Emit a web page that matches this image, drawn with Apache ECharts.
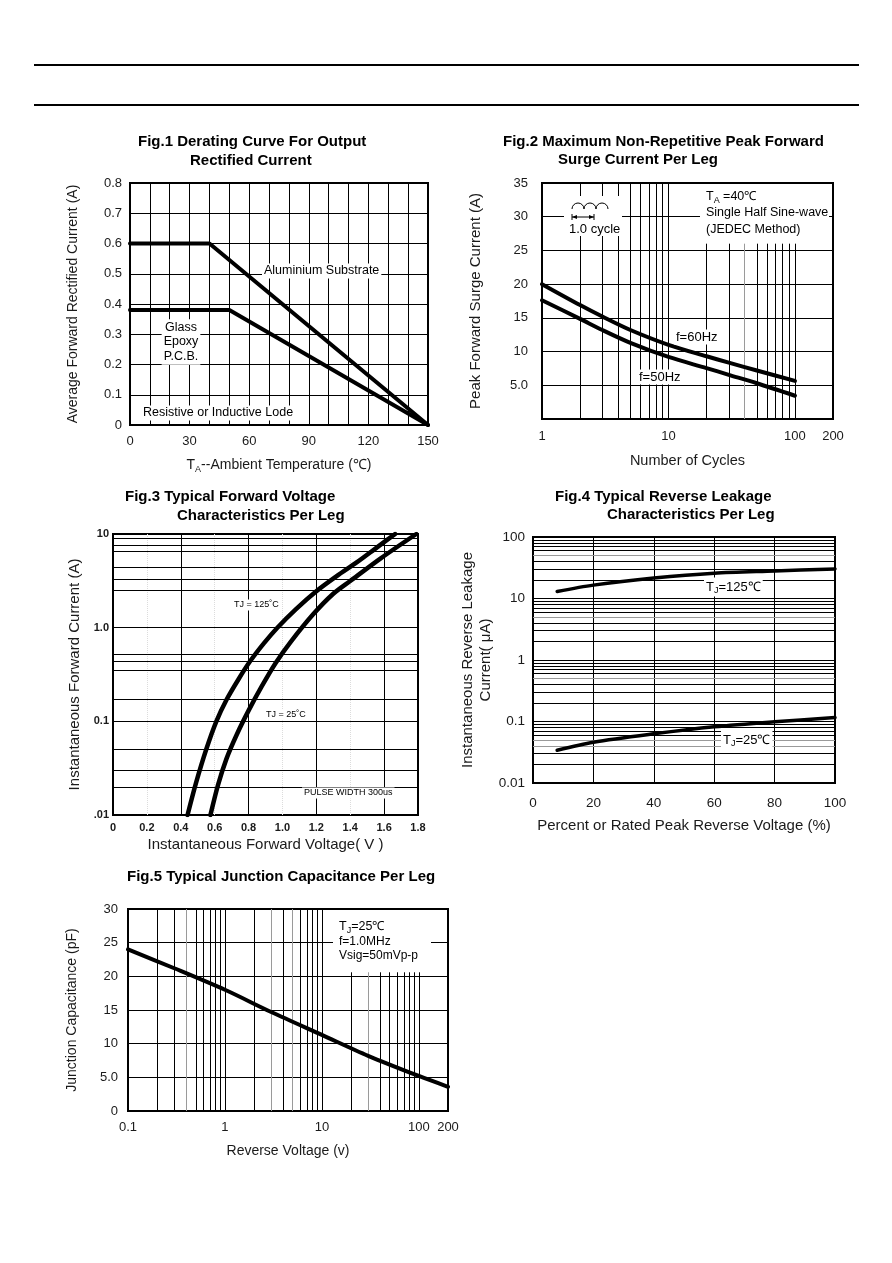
<!DOCTYPE html>
<html>
<head>
<meta charset="utf-8">
<title>Characteristic curves</title>
<script src="https://cdn.jsdelivr.net/npm/echarts@6/dist/echarts.min.js"></script>
<style>
html, body { margin: 0; padding: 0; background: #fff; }
#page { width: 892px; height: 1263px; }
</style>
</head>
<body>
<div id="page"></div>
<script>
const FONT = "'Liberation Sans', Arial, Helvetica, sans-serif"
const INK = '#1a1a1a'

// Fig.1 derating curve
const fig1AluTemp = [0, 40, 150]
const fig1AluCurrent = [0.6, 0.6, 0]
const fig1GlassTemp = [0, 50, 150]
const fig1GlassCurrent = [0.38, 0.38, 0]

// Fig.2 surge current
const fig2Cycles = [1, 2, 3, 5, 10, 20, 30, 50, 100]
const fig2Surge60Hz = [20, 16.9, 15.2, 13.2, 11.0, 9.3, 8.35, 7.2, 5.65]
const fig2Surge50Hz = [17.6, 14.85, 13.2, 11.3, 9.2, 7.55, 6.55, 5.3, 3.45]
const fig2XLabels = [1, 10, 100, 200]
const fig2FullLines = [2, 3, 4, 5, 6, 7, 8, 9, 10]
const fig2ShortLines = [20, 30, 50, 60, 70, 80, 90, 100]
const fig2ShortGray = [40]
const fig2ShortTop = 26

// Fig.3 forward voltage
const fig3Volt125 = [0.44, 0.49, 0.55, 0.61, 0.67, 0.74, 0.81, 0.89, 0.97, 1.08, 1.20, 1.32, 1.44, 1.56, 1.665]
const fig3Amp125 = [0.01, 0.022, 0.05, 0.1, 0.17, 0.28, 0.44, 0.68, 1.0, 1.58, 2.45, 3.55, 5.0, 7.25, 10]
const fig3Volt25 = [0.575, 0.62, 0.67, 0.73, 0.80, 0.88, 0.96, 1.05, 1.18, 1.30, 1.40, 1.58, 1.79]
const fig3Amp25 = [0.01, 0.021, 0.04, 0.072, 0.13, 0.24, 0.42, 0.71, 1.38, 2.3, 3.15, 5.5, 10]
const fig3MajorX = [0.4, 0.8, 1.2, 1.6]
const fig3FaintX = [0.2, 0.6, 1.0, 1.4]
const fig3MinorY = [0.0153, 0.0236, 0.0333, 0.054, 0.17, 0.35, 0.44, 0.52, 2.5, 3.3, 4.4, 6.6, 7.5, 8.9]

// Fig.4 reverse leakage
const fig4Percent = [8, 20, 40, 60, 80, 100]
const fig4Leak125 = [13, 16.5, 21.5, 25.8, 28, 30.3]
const fig4Leak25 = [0.034, 0.046, 0.063, 0.082, 0.099, 0.116]
const fig4BlackY = [0.02, 0.03, 0.06, 0.07, 0.08, 0.09, 0.2, 0.3, 0.4, 0.6, 0.7, 0.8, 0.9,
  2, 3, 4, 6, 7, 8, 9, 20, 30, 40, 60, 70, 80, 90]
const fig4GrayY = [0.04, 0.05, 0.5, 5, 50]

// Fig.5 junction capacitance
const fig5Volt = [0.1, 0.3, 1, 3, 10, 30, 100, 200]
const fig5Cap = [24, 21.2, 18, 14.7, 11.3, 8.2, 5.2, 3.6]
const fig5XLabels = [0.1, 1, 10, 100, 200]
const fig5FullBlack = [0.2, 0.3, 0.5, 0.6, 0.7, 0.8, 0.9, 1, 2, 4, 6, 7, 8, 9, 10]
const fig5FullGray = [0.4, 3, 5]
const fig5ShortBlack = [20, 40, 50, 60, 70, 80, 90, 100]
const fig5ShortGray = [30]
const fig5ShortTop = 20.6

const pairs = (xs, ys) => xs.map((x, i) => [x, ys[i]])
const num = v => String(parseFloat((+v).toPrecision(6)))

function vLines(values, color, top, extra) {
  return values.map(v => top == null
    ? { xAxis: v, lineStyle: Object.assign({ color }, extra) }
    : [{ coord: [v, 0], lineStyle: Object.assign({ color }, extra) }, { coord: [v, top] }])
}
function hLines(values, color) {
  return values.map(v => ({ yAxis: v, lineStyle: { color } }))
}

function gridLines(idx, data) {
  return {
    type: 'line', xAxisIndex: idx, yAxisIndex: idx, data: [], z: 1, silent: true,
    markLine: {
      silent: true, symbol: ['none', 'none'], label: { show: false }, animation: false,
      lineStyle: { type: 'solid', width: 1 }, data
    }
  }
}

function curve(idx, xs, ys, width, smooth) {
  return {
    type: 'line', xAxisIndex: idx, yAxisIndex: idx, data: pairs(xs, ys),
    showSymbol: false, symbol: 'none', smooth: smooth,
    z: 6, silent: true, emphasis: { disabled: true },
    lineStyle: { color: '#000', width: width, cap: 'round', join: 'round' }
  }
}

function axis(idx, extra) {
  return Object.assign({
    gridIndex: idx,
    axisLine: { show: false },
    axisTick: { show: false },
    splitLine: { show: true, lineStyle: { color: '#000', width: 1 } },
    nameLocation: 'middle',
    nameTextStyle: { color: INK, fontSize: 14, fontFamily: FONT }
  }, extra)
}

function label(extra) {
  return Object.assign({ color: INK, fontSize: 13, fontFamily: FONT }, extra)
}

function txt(x, y, text, opt) {
  return {
    type: 'text', z: 50,
    style: Object.assign({
      x: x, y: y, text: text, fill: '#000', font: '13px ' + FONT,
      align: 'left', verticalAlign: 'middle'
    }, opt || {})
  }
}

function subText(x, y, base, sub, rest, size, opt) {
  return txt(x, y, '{n|' + base + '}{s|' + sub + '}{n|' + rest + '}', Object.assign({
    rich: {
      n: { fontSize: size, fontFamily: FONT, fill: '#000', lineHeight: size + 4 },
      s: { fontSize: Math.round(size * 0.68), fontFamily: FONT, fill: '#000', verticalAlign: 'bottom', lineHeight: size + 4 }
    }
  }, opt || {}))
}

function box(x, y, w, h) {
  return { type: 'rect', z: 40, shape: { x, y, width: w, height: h }, style: { fill: '#fff' } }
}

function hr(y) {
  return { type: 'line', z: 50, shape: { x1: 34, y1: y, x2: 859, y2: y }, style: { stroke: '#000', lineWidth: 2 } }
}

const titleFont = 'bold 15px ' + FONT
const titles = [
  [138, 142, 'Fig.1 Derating Curve For Output'],
  [190, 161, 'Rectified Current'],
  [503, 142, 'Fig.2 Maximum Non-Repetitive Peak Forward'],
  [558, 160, 'Surge Current Per Leg'],
  [125, 497, 'Fig.3 Typical Forward Voltage'],
  [177, 516, 'Characteristics Per Leg'],
  [555, 497, 'Fig.4 Typical Reverse Leakage'],
  [607, 515, 'Characteristics Per Leg'],
  [127, 877, 'Fig.5 Typical Junction Capacitance Per Leg']
]

const white = { backgroundColor: '#fff', padding: [1, 2] }

const graphics = [
  hr(65), hr(105),
  ...titles.map(t => txt(t[0], t[1], t[2], { font: titleFont })),

  // Fig.1 notes
  txt(262, 271, 'Aluminium Substrate', Object.assign({ font: '12.5px ' + FONT }, white)),
  txt(181, 342, 'Glass\nEpoxy\nP.C.B.', Object.assign({ font: '12.5px ' + FONT, align: 'center', lineHeight: 14.5 }, white)),
  txt(141, 413, 'Resistive or Inductive Lode', Object.assign({ font: '12.5px ' + FONT }, white)),

  // Fig.2 notes
  box(564, 196, 58, 40),
  { type: 'arc', z: 51, shape: { cx: 578, cy: 209, r: 6, startAngle: Math.PI, endAngle: 2 * Math.PI }, style: { stroke: '#000', fill: null, lineWidth: 1 } },
  { type: 'arc', z: 51, shape: { cx: 590, cy: 209, r: 6, startAngle: Math.PI, endAngle: 2 * Math.PI }, style: { stroke: '#000', fill: null, lineWidth: 1 } },
  { type: 'arc', z: 51, shape: { cx: 602, cy: 209, r: 6, startAngle: Math.PI, endAngle: 2 * Math.PI }, style: { stroke: '#000', fill: null, lineWidth: 1 } },
  { type: 'line', z: 51, shape: { x1: 572, y1: 217, x2: 594, y2: 217 }, style: { stroke: '#000', lineWidth: 1 } },
  { type: 'line', z: 51, shape: { x1: 572, y1: 214, x2: 572, y2: 220 }, style: { stroke: '#000', lineWidth: 1 } },
  { type: 'line', z: 51, shape: { x1: 594, y1: 214, x2: 594, y2: 220 }, style: { stroke: '#000', lineWidth: 1 } },
  { type: 'polygon', z: 51, shape: { points: [[572, 217], [577, 215], [577, 219]] }, style: { fill: '#000' } },
  { type: 'polygon', z: 51, shape: { points: [[594, 217], [589, 215], [589, 219]] }, style: { fill: '#000' } },
  txt(569, 229, '1.0 cycle', { font: '13px ' + FONT, z: 52 }),
  box(700, 186, 129, 54),
  subText(706, 197, 'T', 'A', ' =40℃', 12.5, { z: 52 }),
  txt(706, 213, 'Single Half Sine-wave', { font: '12.5px ' + FONT, z: 52 }),
  txt(706, 230, '(JEDEC Method)', { font: '12.5px ' + FONT, z: 52 }),
  txt(674, 337, 'f=60Hz', Object.assign({ font: '13px ' + FONT }, white)),
  txt(637, 377, 'f=50Hz', Object.assign({ font: '13px ' + FONT }, white)),

  // Fig.3 notes
  txt(232, 605, 'TJ = 125˚C', Object.assign({ font: '9px ' + FONT }, white)),
  txt(264, 715, 'TJ = 25˚C', Object.assign({ font: '9px ' + FONT }, white)),
  txt(302, 793, 'PULSE WIDTH 300us', Object.assign({ font: '9px ' + FONT }, white)),

  // Fig.4 notes
  subText(704, 587, 'T', 'J', '=125℃', 13, white),
  subText(721, 740, 'T', 'J', '=25℃', 13, white),

  // Fig.5 notes
  box(333, 918, 98, 46),
  subText(339, 927, 'T', 'J', '=25℃', 12.5, { z: 52 }),
  txt(339, 942, 'f=1.0MHz', { font: '12px ' + FONT, z: 52 }),
  txt(339, 956, 'Vsig=50mVp-p', { font: '12px ' + FONT, z: 52 })
]

const border = { show: true, borderColor: '#000', borderWidth: 2, backgroundColor: 'transparent' }

const chart = echarts.init(document.getElementById('page'), null, { renderer: 'canvas' })

chart.setOption({
  animation: false,
  backgroundColor: '#fff',
  textStyle: { fontFamily: FONT },
  graphic: { elements: graphics },
  grid: [
    Object.assign({ left: 130, top: 183, width: 298, height: 242 }, border),
    Object.assign({ left: 542, top: 183, width: 291, height: 236 }, border),
    Object.assign({ left: 113, top: 534, width: 305, height: 281 }, border),
    Object.assign({ left: 533, top: 537, width: 302, height: 246 }, border),
    Object.assign({ left: 128, top: 909, width: 320, height: 202 }, border)
  ],
  xAxis: [
    axis(0, {
      type: 'value', min: 0, max: 150, interval: 10,
      axisLabel: label({ margin: 10, formatter: v => (v % 30 === 0 ? String(v) : '') }),
      name: '{n|T}{s|A}{n|--Ambient Temperature (℃)}', nameGap: 31,
      nameTextStyle: {
        rich: {
          n: { fontSize: 14, fontFamily: FONT, color: INK, lineHeight: 18 },
          s: { fontSize: 9, fontFamily: FONT, color: INK, verticalAlign: 'bottom', lineHeight: 18 }
        }
      }
    }),
    axis(1, {
      type: 'log', logBase: 10, min: 1, max: 200,
      splitLine: { show: false },
      axisLabel: label({ margin: 11, customValues: fig2XLabels, formatter: num }),
      name: 'Number of Cycles', nameGap: 34, nameTextStyle: { color: INK, fontSize: 14.5, fontFamily: FONT }
    }),
    axis(2, {
      type: 'value', min: 0, max: 1.8, interval: 0.2,
      splitLine: { show: false },
      axisLabel: label({ margin: 7, fontSize: 11, fontWeight: 'bold', formatter: v => (v === 0 ? '0' : v.toFixed(1)) }),
      name: 'Instantaneous Forward Voltage( V )', nameGap: 22, nameTextStyle: { color: INK, fontSize: 15, fontFamily: FONT }
    }),
    axis(3, {
      type: 'value', min: 0, max: 100, interval: 20,
      axisLabel: label({ margin: 13, fontSize: 13.5 }),
      name: 'Percent or Rated Peak Reverse Voltage (%)', nameGap: 35, nameTextStyle: { color: INK, fontSize: 15, fontFamily: FONT }
    }),
    axis(4, {
      type: 'log', logBase: 10, min: 0.1, max: 200,
      splitLine: { show: false },
      axisLabel: label({ margin: 10, customValues: fig5XLabels, formatter: num }),
      name: 'Reverse Voltage (v)', nameGap: 33
    })
  ],
  yAxis: [
    axis(0, {
      type: 'value', min: 0, max: 0.8, interval: 0.1,
      axisLabel: label({ margin: 8, formatter: v => (v === 0 ? '0' : v.toFixed(1)) }),
      name: 'Average Forward Rectified Current (A)', nameGap: 50, nameRotate: 90
    }),
    axis(1, {
      type: 'value', min: 0, max: 35, interval: 5,
      axisLabel: label({ margin: 14, formatter: v => (v === 0 ? '' : v === 5 ? '5.0' : String(v)) }),
      name: 'Peak Forward Surge Current (A)', nameGap: 59, nameRotate: 90,
      nameTextStyle: { color: INK, fontSize: 15, fontFamily: FONT }
    }),
    axis(2, {
      type: 'log', logBase: 10, min: 0.01, max: 10,
      axisLabel: label({
        margin: 4, fontSize: 11, fontWeight: 'bold',
        formatter: v => ({ '-2': '.01', '-1': '0.1', '0': '1.0', '1': '10' })[Math.round(Math.log10(v))]
      }),
      name: 'Instantaneous Forward Current (A)', nameGap: 31, nameRotate: 90,
      nameTextStyle: { color: INK, fontSize: 15, fontFamily: FONT }
    }),
    axis(3, {
      type: 'log', logBase: 10, min: 0.01, max: 100,
      axisLabel: label({
        margin: 8, fontSize: 13.5,
        formatter: v => ({ '-2': '0.01', '-1': '0.1', '0': '1', '1': '10', '2': '100' })[Math.round(Math.log10(v))]
      }),
      name: 'Instantaneous Reverse Leakage\nCurrent( μA)', nameGap: 36, nameRotate: 90,
      nameTextStyle: { color: INK, fontSize: 15, fontFamily: FONT, lineHeight: 18 }
    }),
    axis(4, {
      type: 'value', min: 0, max: 30, interval: 5,
      axisLabel: label({ margin: 10, formatter: v => (v === 5 ? '5.0' : String(v)) }),
      name: 'Junction Capacitance (pF)', nameGap: 49, nameRotate: 90
    })
  ],
  series: [
    // Fig.1
    curve(0, fig1AluTemp, fig1AluCurrent, 4, false),
    curve(0, fig1GlassTemp, fig1GlassCurrent, 4, false),

    // Fig.2
    gridLines(1, [].concat(
      vLines(fig2FullLines, '#000'),
      vLines(fig2ShortLines, '#000', fig2ShortTop),
      vLines(fig2ShortGray, '#9a9a9a', fig2ShortTop)
    )),
    curve(1, fig2Cycles, fig2Surge60Hz, 4, 0.3),
    curve(1, fig2Cycles, fig2Surge50Hz, 4, 0.3),

    // Fig.3
    gridLines(2, [].concat(
      vLines(fig3MajorX, '#000'),
      vLines(fig3FaintX, '#dcdcdc', null, { type: 'dotted' }),
      hLines(fig3MinorY, '#000')
    )),
    curve(2, fig3Volt125, fig3Amp125, 4.5, 0.3),
    curve(2, fig3Volt25, fig3Amp25, 4.5, 0.3),

    // Fig.4
    gridLines(3, [].concat(
      hLines(fig4BlackY, '#000'),
      hLines(fig4GrayY, '#9a9a9a')
    )),
    curve(3, fig4Percent, fig4Leak125, 3.5, 0.3),
    curve(3, fig4Percent, fig4Leak25, 3.5, 0.3),

    // Fig.5
    gridLines(4, [].concat(
      vLines(fig5FullBlack, '#000'),
      vLines(fig5FullGray, '#9a9a9a'),
      vLines(fig5ShortBlack, '#000', fig5ShortTop),
      vLines(fig5ShortGray, '#9a9a9a', fig5ShortTop)
    )),
    curve(4, fig5Volt, fig5Cap, 4, 0.3)
  ]
})
</script>
</body>
</html>
